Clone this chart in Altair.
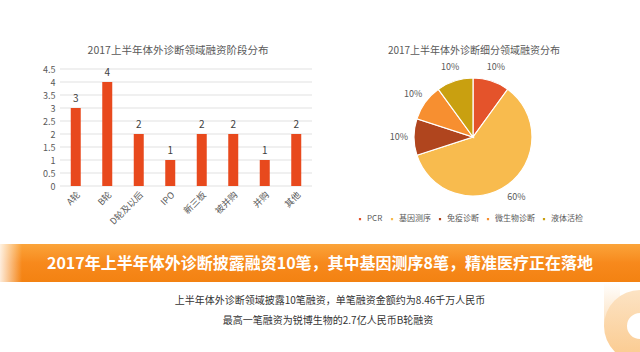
import altair as alt
import pandas as pd

# ---- data ----
stages = ["A轮", "B轮", "D轮及以后", "IPO", "新三板", "被并购", "并购", "其他"]
stage_counts = [3, 4, 2, 1, 2, 2, 1, 2]
y_ticks = [0, 0.5, 1, 1.5, 2, 2.5, 3, 3.5, 4, 4.5]

segments = ["PCR", "基因测序", "免疫诊断", "微生物诊断", "液体活检"]
segment_share = [10, 60, 10, 10, 10]
segment_colors = ["#E4532B", "#F8BB4E", "#B0451E", "#F78F30", "#C9A010"]

bar_title = "2017上半年体外诊断领域融资阶段分布"
pie_title = "2017上半年体外诊断细分领域融资分布"
banner_text = "2017年上半年体外诊断披露融资10笔，其中基因测序8笔，精准医疗正在落地"
sub_lines = ["上半年体外诊断领域披露10笔融资，单笔融资金额约为8.46千万人民币",
             "最高一笔融资为锐博生物的2.7亿人民币B轮融资"]

FONT = "Noto Sans CJK SC"
W, H = 640, 352

bar_df = pd.DataFrame({"stage": stages, "count": stage_counts})
grid_df = pd.DataFrame({"v": y_ticks})
pie_df = pd.DataFrame({"seg": segments, "share": segment_share,
                       "order": list(range(len(segments)))})
pie_df["label"] = pie_df["share"].astype(str) + "%"
one = pd.DataFrame({"a": [0]})

xs = alt.Scale(domain=stages, range=[60, 312], paddingInner=0.3, paddingOuter=0.15)
ys = alt.Scale(domain=[0, 4.5], range=[186, 69], nice=False, zero=True)

y_axis = alt.Axis(
    values=y_ticks, format="~g", grid=False, domain=False, ticks=False,
    labelOverlap=False,
    labelFont=FONT, labelFontSize=9, labelColor="#595959", labelPadding=3,
    offset=-58, title=None)
x_axis = alt.Axis(
    labelAngle=-45, domain=False, ticks=False, grid=False,
    labelOverlap=False,
    labelFont=FONT, labelFontSize=9, labelColor="#595959", labelPadding=4,
    offset=-166, title=None)

grid = alt.Chart(grid_df).mark_rule(color="#D9D9D9", strokeWidth=0.8).encode(
    y=alt.Y("v:Q", scale=ys, axis=y_axis),
    x=alt.value(60), x2=alt.value(312),
)

bars = alt.Chart(bar_df).mark_bar(color="#E8491D", size=10).encode(
    x=alt.X("stage:N", scale=xs, sort=stages, axis=x_axis),
    y=alt.Y("count:Q", scale=ys, axis=y_axis),
)

bar_labels = alt.Chart(bar_df).mark_text(
    font=FONT, fontSize=10, color="#404040", dy=-9).encode(
    x=alt.X("stage:N", scale=xs, sort=stages, axis=x_axis),
    y=alt.Y("count:Q", scale=ys, axis=y_axis),
    text="count:Q",
)

bar_title_t = alt.Chart(one).mark_text(
    text=bar_title, font=FONT, fontSize=10.5, color="#595959").encode(
    x=alt.value(178), y=alt.value(51))

pie_title_t = alt.Chart(one).mark_text(
    text=pie_title, font=FONT, fontSize=10, color="#595959").encode(
    x=alt.value(474), y=alt.value(51))

pie = alt.Chart(pie_df).mark_arc(
    outerRadius=59, stroke="white", strokeWidth=1.2).encode(
    theta=alt.Theta("share:Q", stack=True),
    order=alt.Order("order:Q"),
    color=alt.Color("seg:N", sort=segments,
                    scale=alt.Scale(domain=segments, range=segment_colors),
                    legend=alt.Legend(
                        orient="none", legendX=356, legendY=215,
                        direction="horizontal", title=None,
                        symbolType="square", symbolSize=14,
                        labelFont=FONT, labelFontSize=8, labelColor="#595959",
                        columnPadding=4, symbolOffset=0, labelOffset=3)),
    x=alt.value(473), y=alt.value(137),
)

pie_labels = alt.Chart(pie_df).mark_text(
    radius=74, font=FONT, fontSize=9, color="#595959").encode(
    theta=alt.Theta("share:Q", stack=True),
    order=alt.Order("order:Q"),
    text="label:N",
    x=alt.value(473), y=alt.value(137),
)

banner = alt.Chart(one).mark_rect(
    color=alt.Gradient(gradient="linear", x1=0, x2=0, y1=0, y2=1,
                       stops=[alt.GradientStop(offset=0, color="#FBA43A"),
                              alt.GradientStop(offset=0.5, color="#F7891C"),
                              alt.GradientStop(offset=1, color="#F38212")])).encode(
    x=alt.value(0), x2=alt.value(W), y=alt.value(244), y2=alt.value(282))

banner_fade = alt.Chart(one).mark_rect(
    color=alt.Gradient(gradient="linear", x1=0, x2=1, y1=0, y2=0,
                       stops=[alt.GradientStop(offset=0, color="rgba(255,255,255,0.85)"),
                              alt.GradientStop(offset=1, color="rgba(255,255,255,0)")])).encode(
    x=alt.value(0), x2=alt.value(22), y=alt.value(244), y2=alt.value(282))

banner_t = alt.Chart(one).mark_text(
    text=banner_text, font=FONT, fontSize=16, fontWeight="bold",
    color="white").encode(x=alt.value(320), y=alt.value(264))

deco = alt.Chart(one).mark_arc(
    innerRadius=13, outerRadius=36,
    color=alt.Gradient(gradient="linear", x1=0, x2=0, y1=0, y2=1,
                       stops=[alt.GradientStop(offset=0, color="#FCE3C4"),
                              alt.GradientStop(offset=1, color="#FBC98C")])).encode(
    theta=alt.value(6.2832), x=alt.value(640), y=alt.value(326))

deco_tail = alt.Chart(one).mark_rect(
    color=alt.Gradient(gradient="linear", x1=0, x2=0, y1=0, y2=1,
                       stops=[alt.GradientStop(offset=0, color="#FFFFFF"),
                              alt.GradientStop(offset=1, color="#FCE0BD")])).encode(
    x=alt.value(604), x2=alt.value(620), y=alt.value(282), y2=alt.value(326))

sub1 = alt.Chart(one).mark_text(
    text=sub_lines[0], font=FONT, fontSize=10, color="#333333").encode(
    x=alt.value(330), y=alt.value(301))
sub2 = alt.Chart(one).mark_text(
    text=sub_lines[1], font=FONT, fontSize=10, color="#333333").encode(
    x=alt.value(328), y=alt.value(321))

chart = alt.layer(
    deco_tail, deco, grid, bars, bar_labels, bar_title_t, pie_title_t,
    pie, pie_labels, banner, banner_fade, banner_t, sub1, sub2
).resolve_scale(theta="independent").properties(
    width=W, height=H, autosize=alt.AutoSizeParams(type="none"),
    padding=0, background="white"
).configure_view(stroke=None)

chart.save("out.html", embed_options={"renderer": "svg", "actions": False})
